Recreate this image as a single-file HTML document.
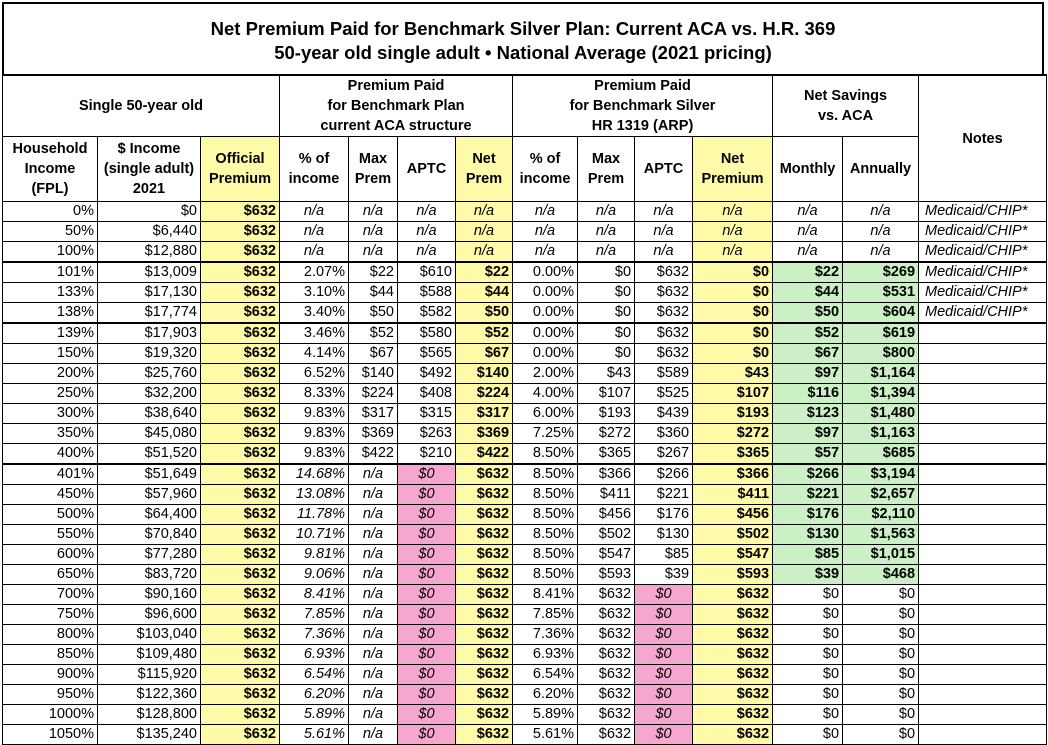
<!DOCTYPE html>
<html><head><meta charset="utf-8"><style>
html,body{margin:0;padding:0;background:#fff;width:1048px;height:730px;overflow:hidden;}
body{font-family:"Liberation Sans",Arial,sans-serif;color:#000;}
.title{position:absolute;left:2px;top:2px;width:1042px;height:72px;border:2px solid #000;border-bottom:none;text-align:center;font-weight:bold;font-size:18.5px;line-height:24px;padding-top:13px;box-sizing:border-box;}
table{position:absolute;left:2px;top:74px;border-collapse:collapse;table-layout:fixed;width:1044px;font-size:14.5px;}
td,th{border:1px solid #000;padding:0 3px;overflow:hidden;white-space:nowrap;}
th{font-weight:bold;font-size:14.5px;line-height:20px;text-align:center;vertical-align:middle;}
tr.h1 th{height:60px;border-top:2px solid #000;}
tr.h2 th{height:64px;}
tbody td{height:19px;line-height:19px;text-align:right;}
tbody td.c{text-align:center;}
.y{background:#fffaa8;}
.p{background:#f7a6cf;}
.g{background:#cbf0c5;font-weight:bold;}
.b{font-weight:bold;}
.i{font-style:italic;}
tr.t td{border-top:2px solid #000;}
td.n{text-align:left;font-style:italic;padding-left:6px;}
</style></head><body>
<div class="title">Net Premium Paid for Benchmark Silver Plan: Current ACA vs. H.R. 369<br>50-year old single adult • National Average (2021 pricing)</div>
<table>
<colgroup><col style="width:95px"><col style="width:103px"><col style="width:79px"><col style="width:69px"><col style="width:49px"><col style="width:58px"><col style="width:57px"><col style="width:65px"><col style="width:57px"><col style="width:58px"><col style="width:80px"><col style="width:70px"><col style="width:76px"><col style="width:128px"></colgroup>
<thead>
<tr class="h1"><th colspan="3">Single 50-year old</th><th colspan="4">Premium Paid<br>for Benchmark Plan<br>current ACA structure</th><th colspan="4">Premium Paid<br>for Benchmark Silver<br>HR 1319 (ARP)</th><th colspan="2">Net Savings<br>vs. ACA</th><th rowspan="2">Notes</th></tr>
<tr class="h2"><th>Household<br>Income<br>(FPL)</th><th>$ Income<br>(single adult)<br>2021</th><th class="y">Official<br>Premium</th><th>% of<br>income</th><th>Max<br>Prem</th><th>APTC</th><th class="y">Net<br>Prem</th><th>% of<br>income</th><th>Max<br>Prem</th><th>APTC</th><th class="y">Net<br>Premium</th><th>Monthly</th><th>Annually</th></tr>
</thead>
<tbody>
<tr><td>0%</td><td>$0</td><td class="y b">$632</td><td class="c i">n/a</td><td class="c i">n/a</td><td class="c i">n/a</td><td class="y c i">n/a</td><td class="c i">n/a</td><td class="c i">n/a</td><td class="c i">n/a</td><td class="y c i">n/a</td><td class="c i">n/a</td><td class="c i">n/a</td><td class="n">Medicaid/CHIP*</td></tr>
<tr><td>50%</td><td>$6,440</td><td class="y b">$632</td><td class="c i">n/a</td><td class="c i">n/a</td><td class="c i">n/a</td><td class="y c i">n/a</td><td class="c i">n/a</td><td class="c i">n/a</td><td class="c i">n/a</td><td class="y c i">n/a</td><td class="c i">n/a</td><td class="c i">n/a</td><td class="n">Medicaid/CHIP*</td></tr>
<tr><td>100%</td><td>$12,880</td><td class="y b">$632</td><td class="c i">n/a</td><td class="c i">n/a</td><td class="c i">n/a</td><td class="y c i">n/a</td><td class="c i">n/a</td><td class="c i">n/a</td><td class="c i">n/a</td><td class="y c i">n/a</td><td class="c i">n/a</td><td class="c i">n/a</td><td class="n">Medicaid/CHIP*</td></tr>
<tr class="t"><td>101%</td><td>$13,009</td><td class="y b">$632</td><td>2.07%</td><td>$22</td><td>$610</td><td class="y b">$22</td><td>0.00%</td><td>$0</td><td>$632</td><td class="y b">$0</td><td class="g">$22</td><td class="g">$269</td><td class="n">Medicaid/CHIP*</td></tr>
<tr><td>133%</td><td>$17,130</td><td class="y b">$632</td><td>3.10%</td><td>$44</td><td>$588</td><td class="y b">$44</td><td>0.00%</td><td>$0</td><td>$632</td><td class="y b">$0</td><td class="g">$44</td><td class="g">$531</td><td class="n">Medicaid/CHIP*</td></tr>
<tr><td>138%</td><td>$17,774</td><td class="y b">$632</td><td>3.40%</td><td>$50</td><td>$582</td><td class="y b">$50</td><td>0.00%</td><td>$0</td><td>$632</td><td class="y b">$0</td><td class="g">$50</td><td class="g">$604</td><td class="n">Medicaid/CHIP*</td></tr>
<tr class="t"><td>139%</td><td>$17,903</td><td class="y b">$632</td><td>3.46%</td><td>$52</td><td>$580</td><td class="y b">$52</td><td>0.00%</td><td>$0</td><td>$632</td><td class="y b">$0</td><td class="g">$52</td><td class="g">$619</td><td></td></tr>
<tr><td>150%</td><td>$19,320</td><td class="y b">$632</td><td>4.14%</td><td>$67</td><td>$565</td><td class="y b">$67</td><td>0.00%</td><td>$0</td><td>$632</td><td class="y b">$0</td><td class="g">$67</td><td class="g">$800</td><td></td></tr>
<tr><td>200%</td><td>$25,760</td><td class="y b">$632</td><td>6.52%</td><td>$140</td><td>$492</td><td class="y b">$140</td><td>2.00%</td><td>$43</td><td>$589</td><td class="y b">$43</td><td class="g">$97</td><td class="g">$1,164</td><td></td></tr>
<tr><td>250%</td><td>$32,200</td><td class="y b">$632</td><td>8.33%</td><td>$224</td><td>$408</td><td class="y b">$224</td><td>4.00%</td><td>$107</td><td>$525</td><td class="y b">$107</td><td class="g">$116</td><td class="g">$1,394</td><td></td></tr>
<tr><td>300%</td><td>$38,640</td><td class="y b">$632</td><td>9.83%</td><td>$317</td><td>$315</td><td class="y b">$317</td><td>6.00%</td><td>$193</td><td>$439</td><td class="y b">$193</td><td class="g">$123</td><td class="g">$1,480</td><td></td></tr>
<tr><td>350%</td><td>$45,080</td><td class="y b">$632</td><td>9.83%</td><td>$369</td><td>$263</td><td class="y b">$369</td><td>7.25%</td><td>$272</td><td>$360</td><td class="y b">$272</td><td class="g">$97</td><td class="g">$1,163</td><td></td></tr>
<tr><td>400%</td><td>$51,520</td><td class="y b">$632</td><td>9.83%</td><td>$422</td><td>$210</td><td class="y b">$422</td><td>8.50%</td><td>$365</td><td>$267</td><td class="y b">$365</td><td class="g">$57</td><td class="g">$685</td><td></td></tr>
<tr class="t"><td>401%</td><td>$51,649</td><td class="y b">$632</td><td class="i">14.68%</td><td class="c i">n/a</td><td class="p c i">$0</td><td class="y b">$632</td><td>8.50%</td><td>$366</td><td>$266</td><td class="y b">$366</td><td class="g">$266</td><td class="g">$3,194</td><td></td></tr>
<tr><td>450%</td><td>$57,960</td><td class="y b">$632</td><td class="i">13.08%</td><td class="c i">n/a</td><td class="p c i">$0</td><td class="y b">$632</td><td>8.50%</td><td>$411</td><td>$221</td><td class="y b">$411</td><td class="g">$221</td><td class="g">$2,657</td><td></td></tr>
<tr><td>500%</td><td>$64,400</td><td class="y b">$632</td><td class="i">11.78%</td><td class="c i">n/a</td><td class="p c i">$0</td><td class="y b">$632</td><td>8.50%</td><td>$456</td><td>$176</td><td class="y b">$456</td><td class="g">$176</td><td class="g">$2,110</td><td></td></tr>
<tr><td>550%</td><td>$70,840</td><td class="y b">$632</td><td class="i">10.71%</td><td class="c i">n/a</td><td class="p c i">$0</td><td class="y b">$632</td><td>8.50%</td><td>$502</td><td>$130</td><td class="y b">$502</td><td class="g">$130</td><td class="g">$1,563</td><td></td></tr>
<tr><td>600%</td><td>$77,280</td><td class="y b">$632</td><td class="i">9.81%</td><td class="c i">n/a</td><td class="p c i">$0</td><td class="y b">$632</td><td>8.50%</td><td>$547</td><td>$85</td><td class="y b">$547</td><td class="g">$85</td><td class="g">$1,015</td><td></td></tr>
<tr><td>650%</td><td>$83,720</td><td class="y b">$632</td><td class="i">9.06%</td><td class="c i">n/a</td><td class="p c i">$0</td><td class="y b">$632</td><td>8.50%</td><td>$593</td><td>$39</td><td class="y b">$593</td><td class="g">$39</td><td class="g">$468</td><td></td></tr>
<tr><td>700%</td><td>$90,160</td><td class="y b">$632</td><td class="i">8.41%</td><td class="c i">n/a</td><td class="p c i">$0</td><td class="y b">$632</td><td>8.41%</td><td>$632</td><td class="p c i">$0</td><td class="y b">$632</td><td>$0</td><td>$0</td><td></td></tr>
<tr><td>750%</td><td>$96,600</td><td class="y b">$632</td><td class="i">7.85%</td><td class="c i">n/a</td><td class="p c i">$0</td><td class="y b">$632</td><td>7.85%</td><td>$632</td><td class="p c i">$0</td><td class="y b">$632</td><td>$0</td><td>$0</td><td></td></tr>
<tr><td>800%</td><td>$103,040</td><td class="y b">$632</td><td class="i">7.36%</td><td class="c i">n/a</td><td class="p c i">$0</td><td class="y b">$632</td><td>7.36%</td><td>$632</td><td class="p c i">$0</td><td class="y b">$632</td><td>$0</td><td>$0</td><td></td></tr>
<tr><td>850%</td><td>$109,480</td><td class="y b">$632</td><td class="i">6.93%</td><td class="c i">n/a</td><td class="p c i">$0</td><td class="y b">$632</td><td>6.93%</td><td>$632</td><td class="p c i">$0</td><td class="y b">$632</td><td>$0</td><td>$0</td><td></td></tr>
<tr><td>900%</td><td>$115,920</td><td class="y b">$632</td><td class="i">6.54%</td><td class="c i">n/a</td><td class="p c i">$0</td><td class="y b">$632</td><td>6.54%</td><td>$632</td><td class="p c i">$0</td><td class="y b">$632</td><td>$0</td><td>$0</td><td></td></tr>
<tr><td>950%</td><td>$122,360</td><td class="y b">$632</td><td class="i">6.20%</td><td class="c i">n/a</td><td class="p c i">$0</td><td class="y b">$632</td><td>6.20%</td><td>$632</td><td class="p c i">$0</td><td class="y b">$632</td><td>$0</td><td>$0</td><td></td></tr>
<tr><td>1000%</td><td>$128,800</td><td class="y b">$632</td><td class="i">5.89%</td><td class="c i">n/a</td><td class="p c i">$0</td><td class="y b">$632</td><td>5.89%</td><td>$632</td><td class="p c i">$0</td><td class="y b">$632</td><td>$0</td><td>$0</td><td></td></tr>
<tr><td>1050%</td><td>$135,240</td><td class="y b">$632</td><td class="i">5.61%</td><td class="c i">n/a</td><td class="p c i">$0</td><td class="y b">$632</td><td>5.61%</td><td>$632</td><td class="p c i">$0</td><td class="y b">$632</td><td>$0</td><td>$0</td><td></td></tr>
</tbody></table>
</body></html>
